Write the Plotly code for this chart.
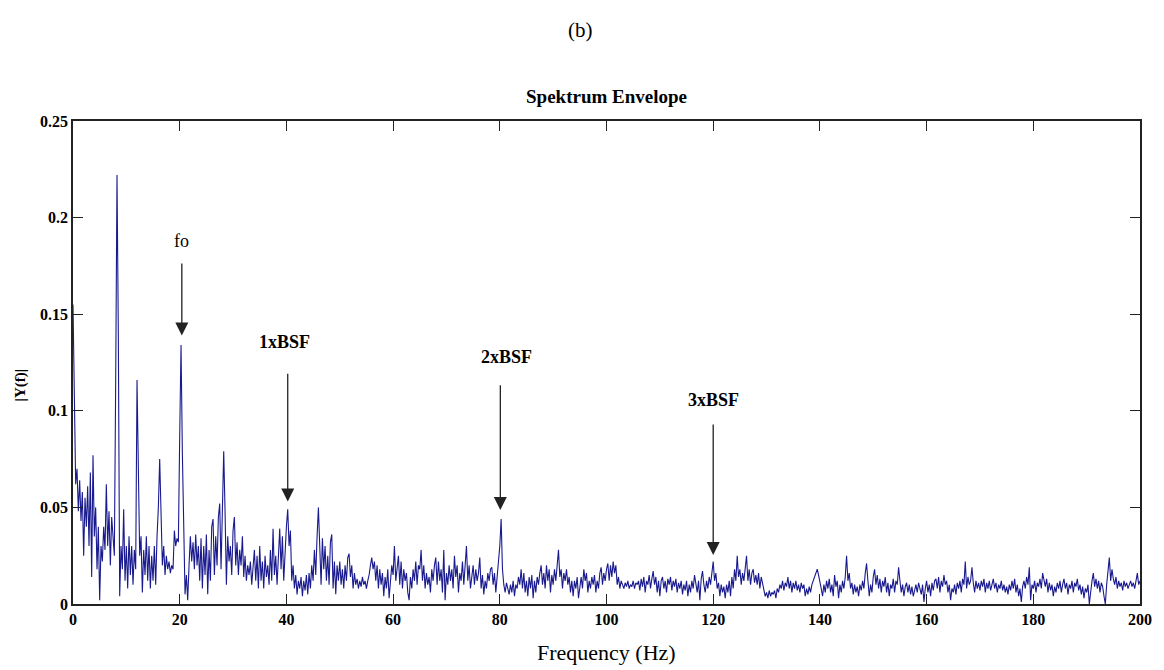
import numpy as np
import plotly.graph_objects as go

freq_step = 0.25  # Hz per bin

amp_000_025 = [
    0.155, 0.094, 0.062, 0.070, 0.048, 0.064, 0.043, 0.058, 0.025, 0.055, 0.040, 0.061, 0.030, 0.068, 0.014, 0.077, 0.035, 0.050, 0.018, 0.040,
    0.002, 0.030, 0.022, 0.040, 0.028, 0.062, 0.030, 0.048, 0.020, 0.045, 0.036, 0.025, 0.115, 0.222, 0.138, 0.004, 0.030, 0.018, 0.049, 0.012,
    0.030, 0.008, 0.035, 0.015, 0.030, 0.010, 0.028, 0.018, 0.116, 0.073, 0.025, 0.035, 0.006, 0.028, 0.015, 0.035, 0.012, 0.030, 0.008, 0.025,
    0.012, 0.030, 0.010, 0.035, 0.050, 0.075, 0.038, 0.020, 0.030, 0.015, 0.025, 0.018, 0.022, 0.016, 0.020, 0.018, 0.038, 0.030, 0.034, 0.032,
    0.087, 0.134, 0.078, 0.040, 0.005, 0.015, 0.002, 0.020, 0.035, 0.022, 0.032, 0.018, 0.036, 0.020, 0.030, 0.012, 0.034, 0.008, 0.030, 0.015,
]
amp_025_050 = [
    0.036, 0.005, 0.028, 0.012, 0.040, 0.044, 0.015, 0.035, 0.020, 0.045, 0.052, 0.018, 0.050, 0.079, 0.048, 0.010, 0.035, 0.022, 0.030, 0.015,
    0.038, 0.045, 0.020, 0.032, 0.015, 0.028, 0.020, 0.035, 0.014, 0.025, 0.012, 0.020, 0.015, 0.022, 0.010, 0.018, 0.028, 0.012, 0.025, 0.008,
    0.030, 0.012, 0.022, 0.008, 0.025, 0.014, 0.020, 0.010, 0.028, 0.012, 0.039, 0.015, 0.025, 0.010, 0.030, 0.039, 0.018, 0.035, 0.012, 0.030,
    0.040, 0.049, 0.030, 0.038, 0.012, 0.020, 0.008, 0.015, 0.005, 0.012, 0.008, 0.014, 0.004, 0.012, 0.007, 0.015, 0.005, 0.016, 0.008, 0.020,
    0.012, 0.028, 0.015, 0.035, 0.050, 0.030, 0.010, 0.034, 0.018, 0.030, 0.012, 0.025, 0.010, 0.032, 0.036, 0.008, 0.022, 0.005, 0.020, 0.012,
]
amp_050_100 = [
    0.022, 0.010, 0.018, 0.008, 0.020, 0.012, 0.024, 0.026, 0.014, 0.020, 0.008, 0.016, 0.010, 0.013, 0.008, 0.012, 0.009, 0.014, 0.010, 0.012,
    0.008, 0.012, 0.015, 0.020, 0.024, 0.018, 0.022, 0.012, 0.020, 0.008, 0.018, 0.010, 0.016, 0.004, 0.014, 0.008, 0.018, 0.003, 0.012, 0.020,
    0.015, 0.030, 0.012, 0.020, 0.025, 0.010, 0.022, 0.008, 0.018, 0.012, 0.016, 0.006, 0.002, 0.014, 0.008, 0.018, 0.012, 0.022, 0.010, 0.020,
    0.018, 0.028, 0.012, 0.020, 0.008, 0.016, 0.010, 0.014, 0.006, 0.018, 0.012, 0.020, 0.024, 0.010, 0.022, 0.012, 0.018, 0.006, 0.028, 0.002,
    0.016, 0.010, 0.020, 0.012, 0.018, 0.008, 0.025, 0.014, 0.020, 0.006, 0.016, 0.012, 0.022, 0.010, 0.018, 0.030, 0.012, 0.020, 0.008, 0.015,
    0.020, 0.010, 0.018, 0.012, 0.016, 0.024, 0.008, 0.015, 0.005, 0.012, 0.008, 0.016, 0.012, 0.018, 0.019, 0.010, 0.016, 0.006, 0.014, 0.020,
    0.030, 0.044, 0.018, 0.010, 0.006, 0.011, 0.008, 0.005, 0.010, 0.006, 0.012, 0.004, 0.010, 0.008, 0.014, 0.010, 0.018, 0.008, 0.016, 0.006,
    0.012, 0.004, 0.014, 0.008, 0.015, 0.003, 0.012, 0.006, 0.014, 0.010, 0.016, 0.020, 0.010, 0.016, 0.008, 0.020, 0.012, 0.018, 0.006, 0.015,
    0.010, 0.018, 0.012, 0.020, 0.028, 0.014, 0.018, 0.008, 0.016, 0.012, 0.018, 0.010, 0.014, 0.006, 0.012, 0.004, 0.012, 0.008, 0.014, 0.003,
    0.010, 0.014, 0.008, 0.018, 0.012, 0.016, 0.006, 0.012, 0.008, 0.014, 0.010, 0.015, 0.006, 0.012, 0.008, 0.016, 0.019, 0.010, 0.016, 0.012,
]
amp_100_150 = [
    0.018, 0.021, 0.012, 0.020, 0.014, 0.022, 0.016, 0.020, 0.010, 0.014, 0.008, 0.012, 0.010, 0.008, 0.011, 0.009, 0.012, 0.008, 0.010, 0.009,
    0.012, 0.008, 0.011, 0.010, 0.012, 0.007, 0.013, 0.009, 0.014, 0.006, 0.012, 0.010, 0.015, 0.008, 0.013, 0.017, 0.010, 0.014, 0.006, 0.012,
    0.004, 0.012, 0.014, 0.008, 0.012, 0.006, 0.013, 0.010, 0.014, 0.007, 0.012, 0.009, 0.013, 0.006, 0.011, 0.008, 0.012, 0.005, 0.010, 0.007,
    0.012, 0.004, 0.010, 0.006, 0.012, 0.008, 0.015, 0.010, 0.006, 0.012, 0.002, 0.013, 0.017, 0.010, 0.006, 0.012, 0.008, 0.014, 0.010, 0.016,
    0.022, 0.012, 0.016, 0.008, 0.011, 0.004, 0.010, 0.006, 0.009, 0.003, 0.010, 0.006, 0.012, 0.004, 0.014, 0.008, 0.018, 0.012, 0.025, 0.014,
    0.018, 0.010, 0.016, 0.012, 0.018, 0.025, 0.012, 0.018, 0.010, 0.016, 0.018, 0.011, 0.015, 0.010, 0.016, 0.008, 0.014, 0.010, 0.007, 0.004,
    0.006, 0.003, 0.007, 0.004, 0.006, 0.005, 0.007, 0.003, 0.008, 0.006, 0.010, 0.008, 0.012, 0.007, 0.011, 0.009, 0.014, 0.008, 0.012, 0.006,
    0.011, 0.008, 0.012, 0.007, 0.010, 0.006, 0.011, 0.008, 0.010, 0.004, 0.008, 0.005, 0.009, 0.006, 0.010, 0.012, 0.014, 0.016, 0.018, 0.015,
    0.012, 0.008, 0.004, 0.010, 0.006, 0.012, 0.008, 0.013, 0.006, 0.010, 0.004, 0.015, 0.009, 0.012, 0.003, 0.010, 0.006, 0.012, 0.008, 0.014,
    0.025, 0.012, 0.016, 0.008, 0.011, 0.005, 0.010, 0.006, 0.009, 0.004, 0.010, 0.007, 0.012, 0.008, 0.016, 0.021, 0.012, 0.004, 0.010, 0.006,
]
amp_150_200 = [
    0.014, 0.018, 0.010, 0.015, 0.008, 0.013, 0.006, 0.012, 0.009, 0.014, 0.006, 0.011, 0.004, 0.010, 0.008, 0.013, 0.006, 0.012, 0.010, 0.019,
    0.012, 0.006, 0.010, 0.004, 0.009, 0.011, 0.006, 0.010, 0.005, 0.009, 0.004, 0.008, 0.010, 0.006, 0.011, 0.008, 0.005, 0.010, 0.001, 0.008,
    0.012, 0.006, 0.010, 0.004, 0.011, 0.007, 0.012, 0.013, 0.008, 0.014, 0.006, 0.012, 0.009, 0.015, 0.010, 0.012, 0.006, 0.010, 0.002, 0.008,
    0.006, 0.010, 0.005, 0.011, 0.008, 0.012, 0.006, 0.013, 0.010, 0.022, 0.008, 0.014, 0.010, 0.012, 0.019, 0.011, 0.006, 0.012, 0.008, 0.011,
    0.007, 0.012, 0.009, 0.013, 0.006, 0.011, 0.008, 0.012, 0.007, 0.010, 0.013, 0.008, 0.011, 0.006, 0.010, 0.008, 0.012, 0.007, 0.010, 0.006,
    0.009, 0.005, 0.010, 0.007, 0.012, 0.008, 0.013, 0.006, 0.010, 0.004, 0.008, 0.001, 0.009, 0.012, 0.008, 0.014, 0.010, 0.019, 0.002, 0.010,
    0.008, 0.012, 0.006, 0.011, 0.009, 0.013, 0.008, 0.016, 0.012, 0.009, 0.013, 0.006, 0.011, 0.007, 0.010, 0.004, 0.009, 0.006, 0.011, 0.008,
    0.012, 0.006, 0.010, 0.013, 0.008, 0.011, 0.005, 0.010, 0.008, 0.012, 0.006, 0.011, 0.009, 0.013, 0.007, 0.010, 0.005, 0.009, 0.003, 0.008,
    0.006, 0.010, 0.000, 0.008, 0.012, 0.016, 0.009, 0.013, 0.008, 0.012, 0.006, 0.011, 0.009, 0.004, 0.000, 0.010, 0.016, 0.024, 0.012, 0.018,
    0.013, 0.010, 0.014, 0.008, 0.012, 0.009, 0.011, 0.007, 0.012, 0.009, 0.011, 0.008, 0.010, 0.012, 0.009, 0.011, 0.008, 0.013, 0.016, 0.010,
    0.012,
]

amplitude = amp_000_025 + amp_025_050 + amp_050_100 + amp_100_150 + amp_150_200
frequency = np.arange(len(amplitude)) * freq_step

x_ticks = [0, 20, 40, 60, 80, 100, 120, 140, 160, 180, 200]
y_ticks = [0, 0.05, 0.1, 0.15, 0.2, 0.25]
y_tick_labels = ["0", "0.05", "0.1", "0.15", "0.2", "0.25"]

# markers: label, arrow x (Hz), arrow tip, arrow start, label x, label y, bold
markers = [
    ("fo", 20.4, 0.139, 0.177, 20.3, 0.188, False),
    ("1xBSF", 40.25, 0.053, 0.120, 39.6, 0.1356, True),
    ("2xBSF", 80.1, 0.0487, 0.114, 81.3, 0.1278, True),
    ("3xBSF", 120.0, 0.0254, 0.0937, 120.0, 0.1056, True),
]

SERIF = "Liberation Serif"

fig = go.Figure()
fig.add_trace(go.Scatter(
    x=frequency, y=amplitude, mode="lines",
    line=dict(color="#1a1a8f", width=1.1),
    showlegend=False, hoverinfo="skip",
))

for label, ax_x, tip, start, lx, ly, bold in markers:
    fig.add_annotation(
        x=ax_x, y=tip, ax=ax_x, ay=start, axref="x", ayref="y", xref="x", yref="y",
        text="", showarrow=True, arrowhead=2, arrowsize=2.0, arrowwidth=1.3,
        arrowcolor="#222222", standoff=0, startstandoff=0,
    )
    fig.add_annotation(
        x=lx, y=ly, xref="x", yref="y", text=label, showarrow=False,
        font=dict(family=SERIF, size=18, color="black", weight="bold" if bold else "normal"),
        xanchor="center", yanchor="middle",
    )

# page texts
fig.add_annotation(x=0.4757, y=1.188, xref="paper", yref="paper", text="(b)", showarrow=False,
                   font=dict(family=SERIF, size=21, color="black"), xanchor="center", yanchor="middle")
fig.add_annotation(x=0.5, y=1.0497, xref="paper", yref="paper", text="Spektrum Envelope", showarrow=False,
                   font=dict(family=SERIF, size=19, color="black", weight="bold"), xanchor="center", yanchor="middle")
fig.add_annotation(x=0.5, y=-0.0994, xref="paper", yref="paper", text="Frequency (Hz)", showarrow=False,
                   font=dict(family=SERIF, size=22, color="black"), xanchor="center", yanchor="middle")
fig.add_annotation(x=-0.0495, y=0.453, xref="paper", yref="paper", text="|Y(f)|", showarrow=False, textangle=-90,
                   font=dict(family=SERIF, size=15, color="black", weight="bold"), xanchor="center", yanchor="middle")

axis_common = dict(
    showgrid=False, zeroline=False, showline=True, linecolor="#222222", linewidth=1.5,
    ticks="inside", ticklen=10, tickwidth=1.2, tickcolor="#222222", mirror="allticks",
    tickfont=dict(family=SERIF, size=16, color="black", weight="bold"),
)

fig.update_layout(
    width=1164, height=670,
    margin=dict(l=73, r=21, t=121, b=66),
    paper_bgcolor="white", plot_bgcolor="white",
    xaxis=dict(range=[0, 200], tickvals=x_ticks, **axis_common),
    yaxis=dict(range=[0, 0.25], tickvals=y_ticks, ticktext=y_tick_labels, **axis_common),
)

fig.write_html("out.html")
